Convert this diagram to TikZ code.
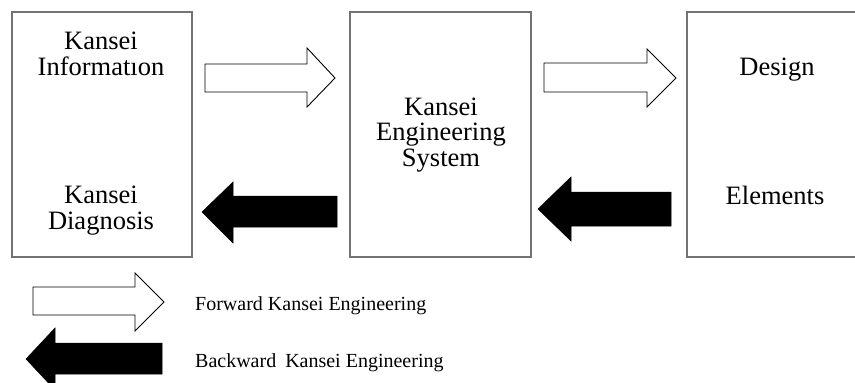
\documentclass[tikz,border=0pt]{standalone}
\usepackage{fontspec}
\setmainfont{Liberation Serif}
\begin{document}
\begin{tikzpicture}[x=1pt,y=-1pt,
  panel/.style={draw=black!55,line width=1.1pt,fill=white},
  boxtext/.style={font=\fontsize{26.5}{25.5}\selectfont,align=center,anchor=base,inner sep=0pt},
  keytext/.style={font=\fontsize{20}{22}\selectfont,anchor=base west,inner sep=0pt},
  fwdarrow/.style={draw=black,line width=0.9pt,fill=white,line join=miter},
  bwdarrow/.style={draw=black,line width=0.5pt,fill=black,line join=miter}]
\useasboundingbox (0,0) rectangle (855,383);
\clip (0,0) rectangle (855,383);

% three stages
\draw[panel] (12,12) rectangle (192,257);
\draw[panel] (350,12) rectangle (531,257);
\draw[panel] (687,12) rectangle (875,257);

% multi-line labels are placed by the baseline of their last line
\node[boxtext] (info) at (101,75) {Kansei\\Informatıon};
\node[boxtext] (diag) at (101,229) {Kansei\\Diagnosis};
\node[boxtext] (kes) at (441,166) {Kansei\\Engineering\\System};
\node[boxtext] (design) at (777,75) {Design};
\node[boxtext] (elem) at (775,204) {Elements};

% forward (hollow) block arrows
\draw[fwdarrow] (205,64) -- (307,64) -- (307,48) -- (335,78) -- (307,107)
  -- (307,92) -- (205,92) -- cycle;
\draw[fwdarrow] (544,63) -- (647,63) -- (647,49) -- (676,78) -- (647,107)
  -- (647,92) -- (544,92) -- cycle;

% backward (solid) block arrows
\draw[bwdarrow] (337,196) -- (233,196) -- (233,182) -- (202,212) -- (233,243)
  -- (233,227) -- (337,227) -- cycle;
\draw[bwdarrow] (671,192) -- (571,192) -- (571,177) -- (538,209) -- (571,241)
  -- (571,226) -- (671,226) -- cycle;

% legend
\draw[fwdarrow] (33,287) -- (135,287) -- (135,273) -- (164,302) -- (135,331)
  -- (135,315) -- (33,315) -- cycle;
\draw[bwdarrow] (162,343) -- (55,343) -- (55,328) -- (26,359) -- (55,390)
  -- (55,374) -- (162,374) -- cycle;
\node[keytext] (fwdkey) at (195,310) {Forward Kansei Engineering};
\node[keytext] (bwdkey) at (195,367) {Backward\hspace{0.45em}Kansei Engineering};
\end{tikzpicture}
\end{document}
